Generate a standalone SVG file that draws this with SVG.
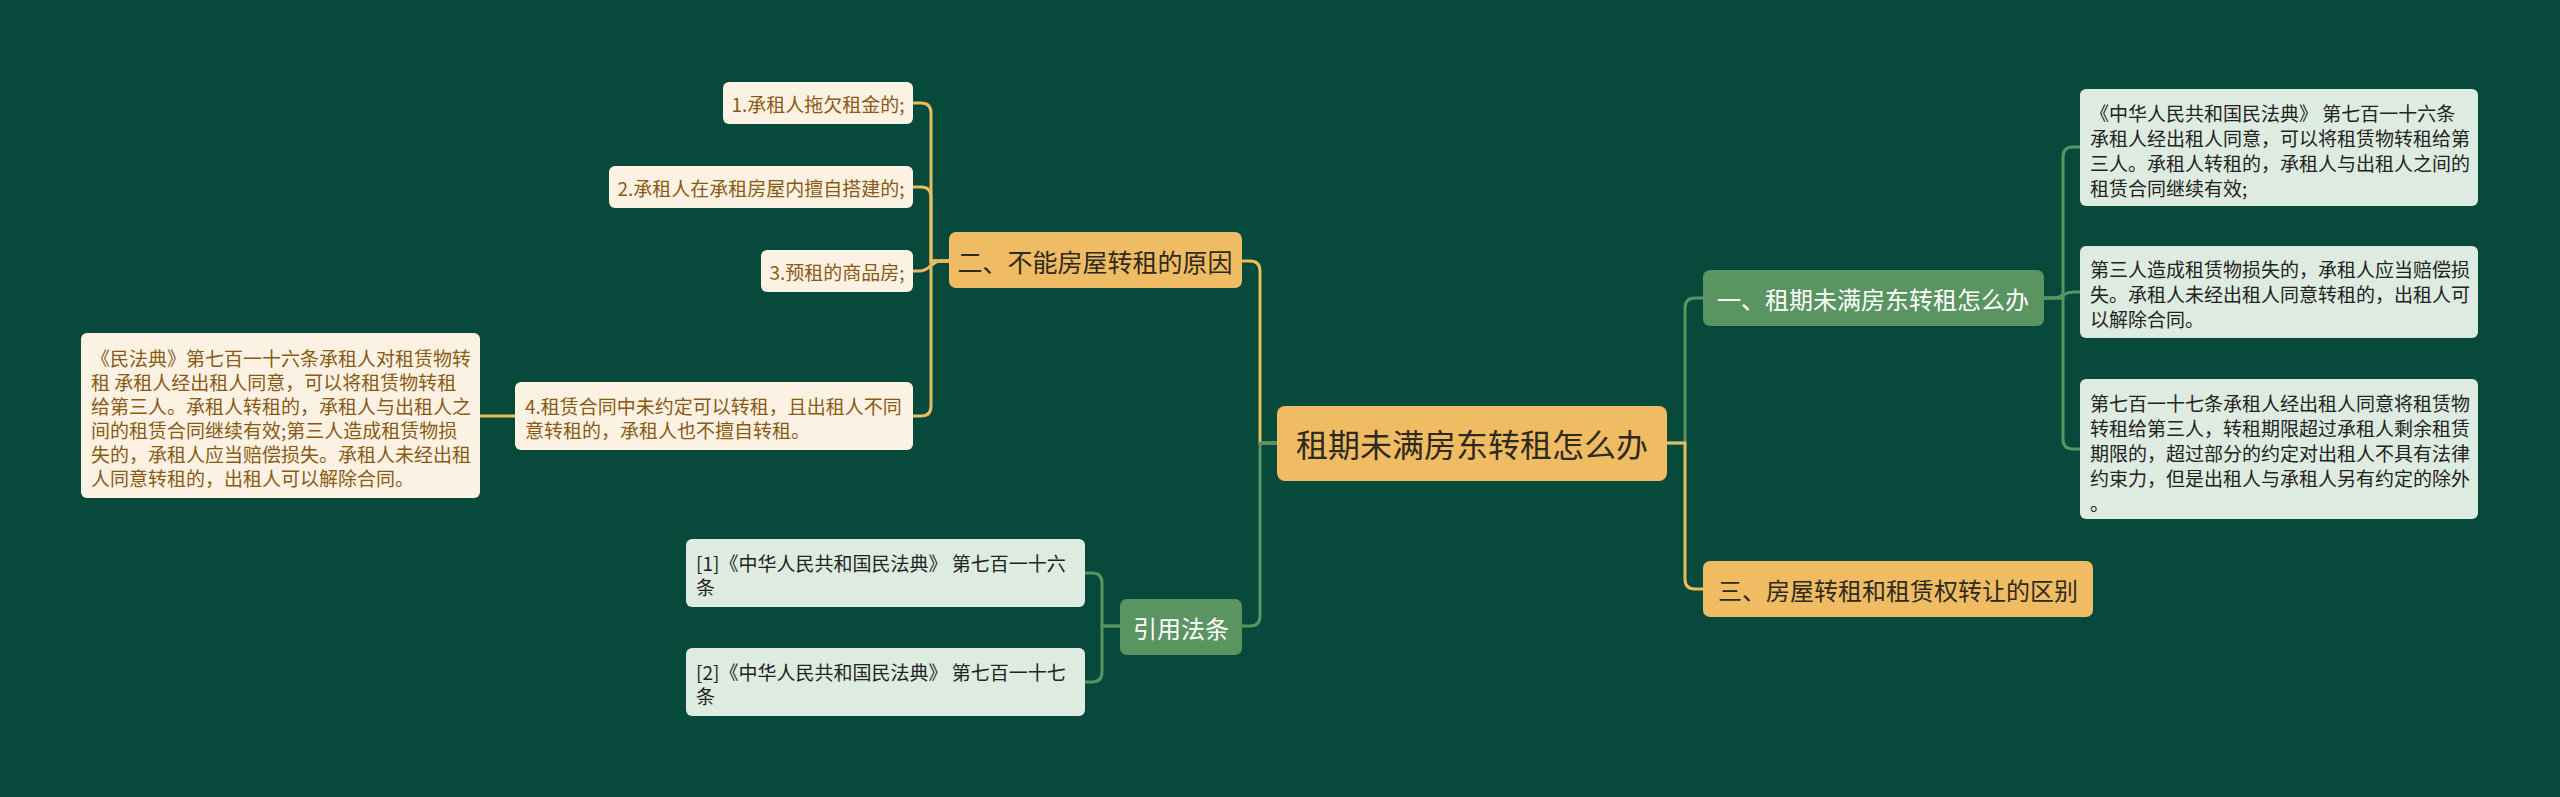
<svg xmlns="http://www.w3.org/2000/svg" width="2560" height="797" viewBox="0 0 2560 797">
<style>
text{font-family:"Noto Sans CJK SC","Noto Sans",sans-serif;dominant-baseline:central}
.orange{fill:#F0BC63}
.green{fill:#5A9461}
.cream{fill:#FCF2E4}
.mint{fill:#DEEBE0}
.lo{fill:none;stroke:#E8BD5E;stroke-width:3}
.lg{fill:none;stroke:#5A9461;stroke-width:3}
.tdark{fill:#2E2A1E}
.twhite{fill:#FFFFFF}
.tbrown{fill:#8A5A12;font-size:19px}
.tleaf{fill:#222222;font-size:19px}
</style>
<rect width="2560" height="797" fill="#07493A"/>
<g id="connectors">
<path class="lo" d="M1277,443 H1260 V271 Q1260,261 1250,261 H1242"/>
<path class="lg" d="M1277,443 H1260 V616 Q1260,626 1250,626 H1242"/>
<path class="lg" d="M1667,443 H1685 V308 Q1685,298 1695,298 H1703"/>
<path class="lo" d="M1667,443 H1685 V579 Q1685,589 1695,589 H1703"/>
<path class="lo" d="M913,103 H921 Q931,103 931,113 V261 H949"/>
<path class="lo" d="M913,187 H921 Q931,187 931,197 V261 H949"/>
<path class="lo" d="M913,271 H919 C931,271 931,261 941,261 H949"/>
<path class="lo" d="M913,416 H921 Q931,416 931,406 V261 H949"/>
<path class="lo" d="M515,416 H480"/>
<path class="lg" d="M1120,626 H1102 V583 Q1102,573 1092,573 H1085"/>
<path class="lg" d="M1120,626 H1102 V672 Q1102,682 1092,682 H1085"/>
<path class="lg" d="M2044,298 H2063 V157 Q2063,147 2073,147 H2080"/>
<path class="lg" d="M2044,298 H2053 C2063,298 2063,292 2073,292 H2080"/>
<path class="lg" d="M2044,298 H2063 V439 Q2063,449 2073,449 H2080"/>
</g>
<g id="root">
<rect class="orange" x="1277" y="406" width="390" height="75" rx="8"/>
<text class="tdark" x="1472" y="443" font-size="32" text-anchor="middle">租期未满房东转租怎么办</text>
</g>
<g id="b2">
<rect class="orange" x="949" y="232" width="293" height="56" rx="7"/>
<text class="tdark" x="1095" y="261" font-size="25" text-anchor="middle">二、不能房屋转租的原因</text>
</g>
<g id="b2-1">
<rect class="cream" x="723" y="82" width="190" height="42" rx="6"/>
<text class="tbrown" x="818" y="103" text-anchor="middle">1.承租人拖欠租金的;</text>
</g>
<g id="b2-2">
<rect class="cream" x="609" y="166" width="304" height="42" rx="6"/>
<text class="tbrown" x="761" y="187" text-anchor="middle">2.承租人在承租房屋内擅自搭建的;</text>
</g>
<g id="b2-3">
<rect class="cream" x="761" y="250" width="152" height="42" rx="6"/>
<text class="tbrown" x="837" y="271" text-anchor="middle">3.预租的商品房;</text>
</g>
<g id="b2-4">
<rect class="cream" x="515" y="382" width="398" height="68" rx="6"/>
<text class="tbrown"><tspan x="525" y="405">4.租赁合同中未约定可以转租，且出租人不同</tspan><tspan x="525" y="429">意转租的，承租人也不擅自转租。</tspan></text>
</g>
<g id="b2-4-1">
<rect class="cream" x="81" y="333" width="399" height="165" rx="6"/>
<text class="tbrown"><tspan x="91" y="357">《民法典》第七百一十六条承租人对租赁物转</tspan><tspan x="91" y="381">租 承租人经出租人同意，可以将租赁物转租</tspan><tspan x="91" y="405">给第三人。承租人转租的，承租人与出租人之</tspan><tspan x="91" y="429">间的租赁合同继续有效;第三人造成租赁物损</tspan><tspan x="91" y="453">失的，承租人应当赔偿损失。承租人未经出租</tspan><tspan x="91" y="477">人同意转租的，出租人可以解除合同。</tspan></text>
</g>
<g id="law">
<rect class="green" x="1120" y="599" width="122" height="56" rx="7"/>
<text class="twhite" x="1181" y="627" font-size="24" text-anchor="middle">引用法条</text>
</g>
<g id="law-1">
<rect class="mint" x="686" y="539" width="399" height="68" rx="6"/>
<text class="tleaf"><tspan x="696" y="562">[1]《中华人民共和国民法典》 第七百一十六</tspan><tspan x="696" y="586">条</tspan></text>
</g>
<g id="law-2">
<rect class="mint" x="686" y="648" width="399" height="68" rx="6"/>
<text class="tleaf"><tspan x="696" y="671">[2]《中华人民共和国民法典》 第七百一十七</tspan><tspan x="696" y="695">条</tspan></text>
</g>
<g id="b1">
<rect class="green" x="1703" y="270" width="341" height="56" rx="7"/>
<text class="twhite" x="1873" y="298" font-size="24" text-anchor="middle">一、租期未满房东转租怎么办</text>
</g>
<g id="b1-1">
<rect class="mint" x="2080" y="89" width="398" height="117" rx="6"/>
<text class="tleaf"><tspan x="2090" y="112">《中华人民共和国民法典》 第七百一十六条</tspan><tspan x="2090" y="137">承租人经出租人同意，可以将租赁物转租给第</tspan><tspan x="2090" y="162">三人。承租人转租的，承租人与出租人之间的</tspan><tspan x="2090" y="187">租赁合同继续有效;</tspan></text>
</g>
<g id="b1-2">
<rect class="mint" x="2080" y="246" width="398" height="92" rx="6"/>
<text class="tleaf"><tspan x="2090" y="268">第三人造成租赁物损失的，承租人应当赔偿损</tspan><tspan x="2090" y="293">失。承租人未经出租人同意转租的，出租人可</tspan><tspan x="2090" y="318">以解除合同。</tspan></text>
</g>
<g id="b1-3">
<rect class="mint" x="2080" y="379" width="398" height="140" rx="6"/>
<text class="tleaf"><tspan x="2090" y="402">第七百一十七条承租人经出租人同意将租赁物</tspan><tspan x="2090" y="427">转租给第三人，转租期限超过承租人剩余租赁</tspan><tspan x="2090" y="452">期限的，超过部分的约定对出租人不具有法律</tspan><tspan x="2090" y="477">约束力，但是出租人与承租人另有约定的除外</tspan><tspan x="2090" y="502">。</tspan></text>
</g>
<g id="b3">
<rect class="orange" x="1703" y="561" width="390" height="56" rx="7"/>
<text class="tdark" x="1898" y="589" font-size="24" text-anchor="middle">三、房屋转租和租赁权转让的区别</text>
</g>
</svg>
